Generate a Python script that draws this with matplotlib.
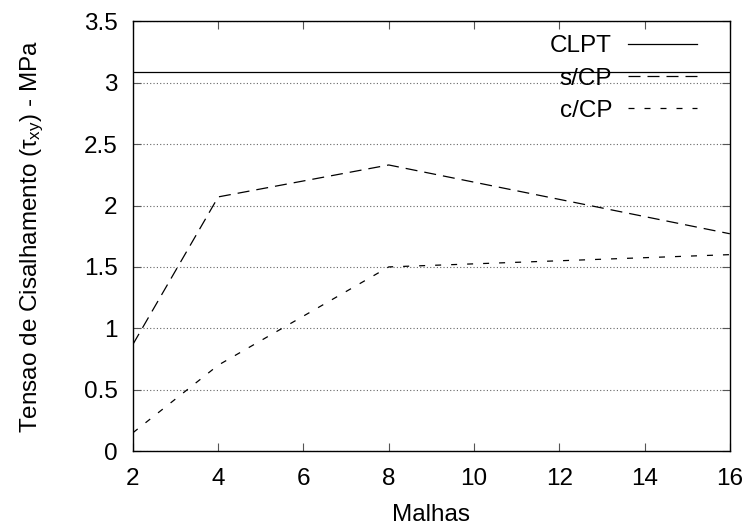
import matplotlib
matplotlib.use("Agg")
import matplotlib.pyplot as plt

plt.rcParams["font.family"] = ["Liberation Sans", "DejaVu Sans"]
plt.rcParams["mathtext.fontset"] = "custom"
plt.rcParams["mathtext.rm"] = "Liberation Sans"
plt.rcParams["mathtext.it"] = "Liberation Sans"

malhas = [2, 4, 8, 16]
clpt = [3.09, 3.09, 3.09, 3.09]
s_cp = [0.87, 2.07, 2.33, 1.77]
c_cp = [0.15, 0.70, 1.50, 1.60]

FS = 17.5


def main():
    fig = plt.figure(figsize=(7.47, 5.32), dpi=100)
    ax = fig.add_axes([0.178, 0.152, 0.799, 0.808])

    ax.plot(malhas, clpt, color="black", lw=0.9, label="CLPT")
    ax.plot(malhas, s_cp, color="black", lw=0.9, dashes=(9.6, 5.6), label="s/CP")
    ax.plot(malhas, c_cp, color="black", lw=0.9, dashes=(4.8, 8), label="c/CP")

    ax.set_xlim(2, 16)
    ax.set_ylim(0, 3.5)
    ax.set_xticks(range(2, 17, 2))
    ax.set_yticks([0, 0.5, 1, 1.5, 2, 2.5, 3, 3.5])
    ax.set_yticklabels(["0", "0.5", "1", "1.5", "2", "2.5", "3", "3.5"])
    ax.yaxis.grid(True, color="#666666", linestyle=(0, (1, 2)), lw=0.8)

    ax.tick_params(direction="in", top=True, right=True, length=6,
                   color="#555555", labelsize=FS)
    ax.tick_params(axis="y", pad=11)
    ax.tick_params(axis="x", pad=12)
    for s in ax.spines.values():
        s.set_linewidth(1.0)

    ax.set_xlabel("Malhas", fontsize=FS, labelpad=10)
    ax.set_ylabel(r"Tensao de Cisalhamento ($\tau_{xy}$) - MPa", fontsize=FS)
    ax.yaxis.set_label_coords(-0.146, 0.5)

    ax.legend(loc="upper right", frameon=False, markerfirst=False,
              fontsize=FS, handlelength=2.85, labelspacing=0.42,
              borderaxespad=0.0, handletextpad=0.66,
              bbox_to_anchor=(0.962, 0.99))

    fig.savefig("out.png", dpi=100)


if __name__ == "__main__":
    main()
